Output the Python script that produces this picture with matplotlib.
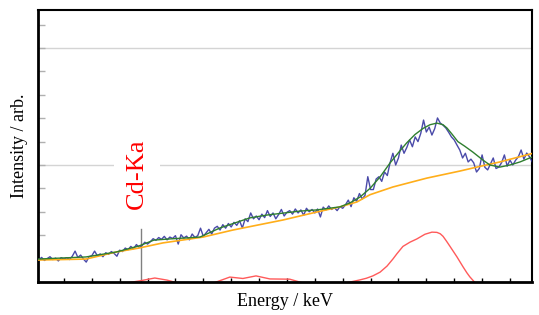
import numpy as np
import matplotlib
matplotlib.use("Agg")
import matplotlib.pyplot as plt

plt.rcParams['font.family'] = ['Liberation Serif', 'DejaVu Serif']

# measured spectrum, x step 0.1 from 0.1 to 17.8
x_data = np.round(np.arange(1, 179) * 0.1, 2)
y_data = [
    0.95, 1.05, 0.92, 1.00, 1.08, 0.96, 1.02, 0.90, 1.04, 0.98,
    1.04, 0.96, 1.10, 1.32, 1.05, 1.15, 0.98, 0.85, 1.08, 1.12,
    1.32, 1.12, 1.20, 1.08, 1.25, 1.18, 1.30, 1.22, 1.10, 1.36,
    1.30, 1.45, 1.38, 1.52, 1.42, 1.60, 1.48, 1.55, 1.70, 1.62,
    1.72, 1.85, 1.78, 1.90, 1.82, 1.95, 1.80, 1.92, 1.86, 1.98,
    1.62, 2.02, 1.88, 1.96, 1.80, 2.05, 1.90, 1.98, 2.30, 1.95,
    2.10, 2.25, 2.05, 2.30, 2.38, 2.22, 2.45, 2.30, 2.50, 2.35,
    2.55, 2.42, 2.62, 2.31, 2.70, 2.58, 2.95, 2.70, 2.82, 2.66,
    2.90, 2.75, 3.05, 2.80, 2.95, 2.70, 2.88, 3.10, 2.82, 2.98,
    3.05, 2.90, 3.12, 2.95, 3.08, 2.85, 3.15, 3.00, 3.10, 2.95,
    3.12, 2.78, 3.20, 3.08, 3.25, 3.10, 3.18, 3.05, 3.22, 3.15,
    3.30, 3.50, 3.22, 3.60, 3.45, 3.78, 3.55, 3.70, 4.50, 3.95,
    3.95, 4.40, 4.50, 4.30, 4.70, 4.55, 5.10, 5.50, 5.00, 5.30,
    5.85, 5.50, 5.75, 6.07, 5.78, 6.20, 6.00, 6.35, 6.92, 6.41,
    6.62, 6.28, 6.55, 7.01, 6.79, 6.70, 6.58, 6.40, 6.20, 6.07,
    5.85, 5.64, 5.30, 5.50, 5.13, 5.25, 5.09, 4.70, 4.85, 5.43,
    4.90, 4.79, 5.05, 5.30, 4.85, 4.91, 5.10, 5.43, 4.95, 5.21,
    5.00, 5.20, 5.35, 5.64, 5.25, 5.51, 5.35, 5.13,
]

# fitted total
x_fit = [0.07, 1.79, 2.87, 3.69, 4.23, 4.80, 5.88, 6.60, 7.67, 8.28, 9.47, 10.07,
         10.90, 11.26, 11.62, 11.98, 12.34, 12.70, 13.05, 13.30, 13.59, 13.88, 14.13,
         14.38, 14.60, 14.74, 14.92, 15.13, 15.38, 15.67, 16.03, 16.28, 16.64,
         17.00, 17.36, 17.79]
y_fit = [0.98, 1.07, 1.28, 1.54, 1.79, 1.84, 1.92, 2.31, 2.74, 2.86, 3.03, 3.08,
         3.21, 3.38, 3.63, 4.00, 4.49, 5.09, 5.60, 5.95, 6.30, 6.56, 6.72,
         6.79, 6.72, 6.58, 6.32, 6.00, 5.80, 5.55, 5.21, 5.00, 4.91,
         5.00, 5.13, 5.34]

# background
x_bg = [0.07, 1.00, 1.79, 2.87, 3.69, 4.55, 5.99, 7.06, 8.86, 10.07, 10.90, 11.51,
        11.98, 12.80, 14.02, 15.20, 15.81, 16.64, 17.79]
y_bg = [0.94, 0.96, 0.98, 1.28, 1.45, 1.67, 1.92, 2.22, 2.65, 2.99, 3.21, 3.42,
        3.73, 4.06, 4.44, 4.74, 4.91, 5.13, 5.49]

# net peak (red)
x_peak = [3.20, 3.73, 4.26, 4.70, 5.10, 6.35, 6.95, 7.42, 7.89, 8.39, 9.10, 9.60,
          11.08, 11.62, 11.85, 12.08, 12.34, 12.59, 12.80, 12.94, 13.16, 13.41,
          13.66, 13.95, 14.20, 14.38, 14.50, 14.60, 14.72, 14.85, 15.10, 15.31,
          15.45, 15.56, 15.80]
y_peak = [-0.05, 0.05, 0.17, 0.08, -0.05, -0.05, 0.21, 0.15, 0.26, 0.13, 0.12, -0.05,
          -0.05, 0.09, 0.16, 0.26, 0.42, 0.68, 0.98, 1.20, 1.52, 1.70,
          1.84, 2.04, 2.13, 2.12, 2.06, 1.95, 1.75, 1.52, 1.07, 0.66,
          0.40, 0.22, -0.10]

line_x = 3.77
line_top = 2.26
label = "Cd-Ka"

fig = plt.figure(figsize=(5.39, 3.15), dpi=100)
ax = fig.add_axes([0.0705, 0.1048, 0.9165, 0.8632])

ax.set_xlim(0.07, 17.79)
ax.set_ylim(0, 11.62)

ax.set_xticks(np.arange(1, 18))
ax.set_yticks(np.arange(1, 12))
ax.set_xticklabels([])
ax.set_yticklabels([])
ax.tick_params(axis='x', direction='in', length=3, width=1, color='black')
ax.tick_params(axis='y', direction='in', length=5, width=1, color='#b0b0b0')

for g in [5, 10]:
    ax.axhline(g, color='#d4d4d4', lw=1, zorder=0)

for side in ['left', 'bottom']:
    ax.spines[side].set_linewidth(2)
for side in ['top', 'right']:
    ax.spines[side].set_linewidth(1.5)

ax.plot(x_peak, y_peak, color='#ff5a5a', lw=1, zorder=2)
ax.plot(x_data, y_data, color='#2a2a9a', lw=1, alpha=0.85, zorder=3)
ax.plot(x_bg, y_bg, color='#ffae1a', lw=1.2, zorder=4)
ax.plot(x_fit, y_fit, color='#2f7f2f', lw=1, zorder=5)

ax.plot([line_x, line_x], [0, line_top], color='#808080', lw=1, zorder=1)
ax.text(3.62, 4.62, label, rotation=90, color='red', fontsize=19,
        ha='center', va='center', zorder=6,
        bbox=dict(facecolor='white', edgecolor='none', pad=9))

ax.set_xlabel("Energy / keV", fontsize=13)
ax.set_ylabel("Intensity / arb.", fontsize=13)
ax.xaxis.set_label_coords(0.5, -0.04, transform=ax.transAxes)
ax.xaxis.label.set_va('top')

fig.savefig("out.png", dpi=100)
